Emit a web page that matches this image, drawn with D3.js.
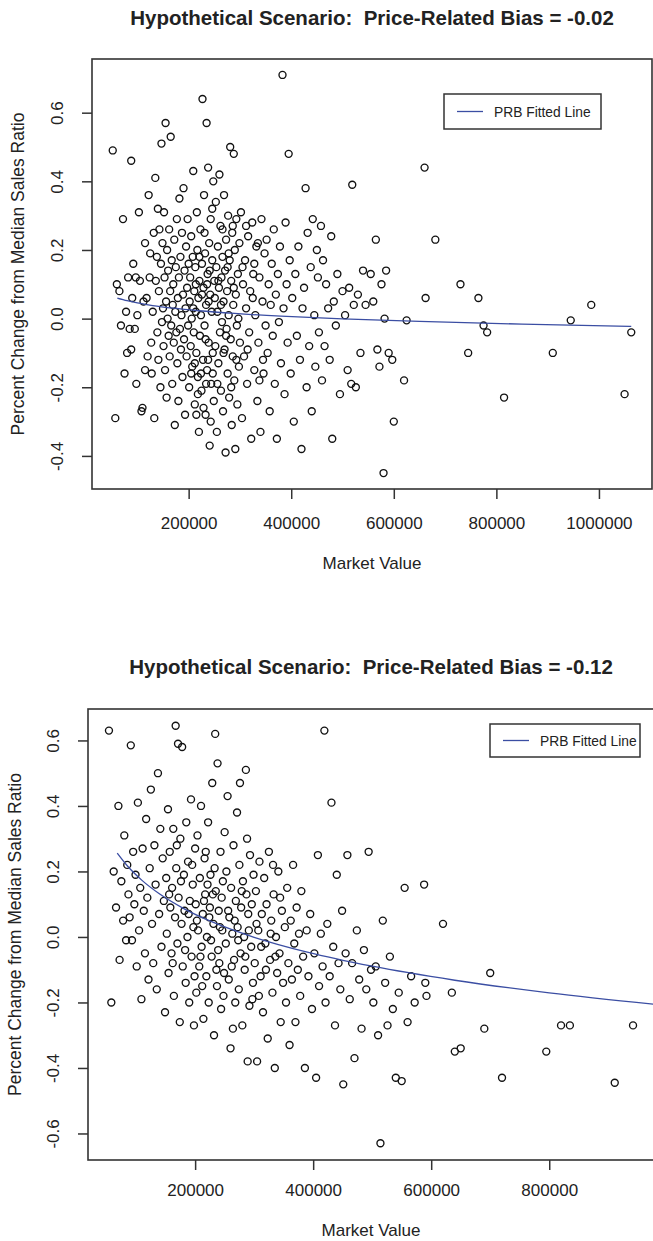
<!DOCTYPE html>
<html>
<head>
<meta charset="utf-8">
<script src="https://cdn.jsdelivr.net/npm/d3@7/dist/d3.min.js"></script>
<style>
  html, body { margin: 0; padding: 0; background: #fff; }
  svg { display: block; }
  text { font-family: "Liberation Sans", Arial, Helvetica, sans-serif; fill: #222; white-space: pre; }
</style>
</head>
<body>
<svg id="chart" width="653" height="1241"></svg>
<script>
// Market values are in thousands of dollars.
const topTitle = "Hypothetical Scenario:  Price-Related Bias = -0.02";
const topPRB = -0.02;
const topMarketValue = [
  52,57,60,65,68,72,75,78,80,82,85,88,88,90,92,95,97,98,100,
  103,105,108,110,112,115,115,118,120,122,124,125,127,128,130,132,133,135,136,138,139,140,141,142,143,145,146,147,148,149,150,
  151,152,153,154,155,156,157,158,159,160,161,162,163,164,165,166,167,168,169,170,171,172,173,174,175,176,177,178,179,180,181,182,183,184,185,186,187,188,189,190,191,192,193,194,195,196,197,198,199,200,
  201,202,203,204,205,206,207,208,209,210,211,212,213,214,215,216,217,218,219,220,221,222,223,224,225,226,227,228,229,230,231,232,233,234,235,236,237,238,239,240,241,242,243,244,245,246,247,248,249,250,
  212,218,224,229,234,238,243,247,205,215,221,226,231,236,241,246,209,239,233,214,
  251,252,253,254,255,256,257,258,259,260,261,262,263,264,265,266,267,268,269,270,271,272,273,274,275,276,277,278,279,280,281,282,283,284,285,286,287,288,289,290,291,292,293,294,295,296,297,298,299,300,
  258,263,268,273,278,283,288,293,256,266,276,286,
  302,304,306,308,310,312,314,316,318,320,322,324,326,328,330,332,334,336,338,340,342,344,346,348,350,
  305,315,325,335,345,312,328,338,
  352,354,356,358,360,362,364,366,368,370,372,374,376,378,380,383,385,387,389,391,393,395,397,399,
  402,405,408,411,414,417,420,422,425,428,430,432,435,438,440,442,445,447,450,452,454,
  458,460,462,465,468,472,475,478,480,483,487,490,495,500,505,510,513,517,519,522,526,530,535,540,545,
  555,560,565,568,572,576,580,582,585,590,597,600,620,625,660,662,681,
  730,745,765,775,782,815,910,945,985,1050,1063
];
const topPctChange = [
  0.49,-0.29,0.10,0.08,-0.02,0.29,-0.16,0.02,-0.10,0.12,-0.03,0.46,-0.09,0.06,0.16,-0.03,0.12,-0.19,0.01,
  0.31,0.11,-0.27,-0.26,0.05,-0.15,0.22,0.06,-0.11,0.36,0.12,0.19,-0.07,-0.16,0.02,0.25,-0.29,0.41,0.11,0.18,-0.04,0.32,-0.12,0.08,0.26,-0.20,0.16,0.51,-0.01,0.22,0.03,
  -0.08,0.31,0.12,-0.15,0.57,0.05,-0.23,0.20,0.00,0.14,-0.05,0.26,-0.11,0.08,0.53,-0.02,0.17,-0.19,0.04,0.10,-0.07,0.23,-0.31,0.02,0.15,-0.04,0.29,-0.13,0.06,-0.24,0.12,0.35,-0.03,0.18,-0.09,0.01,0.25,-0.17,0.07,0.38,-0.06,0.14,-0.28,0.03,0.21,-0.11,0.09,0.29,-0.02,0.16,
  -0.20,0.05,0.12,-0.08,0.24,0.00,-0.14,0.18,0.43,-0.04,0.08,-0.25,0.15,0.02,-0.10,0.31,0.20,-0.17,0.06,-0.33,0.11,-0.05,0.26,0.01,-0.21,0.16,0.64,-0.12,0.09,0.36,-0.02,0.19,-0.28,0.04,0.57,-0.15,0.13,0.44,-0.07,0.22,-0.37,0.07,0.29,-0.19,0.02,0.17,-0.10,0.40,-0.24,0.11,
  -0.13,-0.22,-0.16,-0.26,-0.19,-0.12,-0.30,-0.16,-0.16,-0.28,0.18,0.07,0.25,0.10,0.14,0.32,0.03,0.05,-0.06,0.10,
  0.06,-0.08,0.34,0.15,-0.33,0.02,0.21,-0.13,0.09,0.42,-0.04,0.27,-0.21,0.12,-0.01,0.18,-0.27,0.05,0.36,-0.09,0.14,-0.39,0.23,-0.03,0.08,-0.16,0.30,0.01,-0.23,0.17,0.50,-0.06,0.11,-0.31,0.25,-0.11,0.04,0.48,-0.18,0.20,-0.38,0.07,0.29,-0.02,-0.25,0.13,0.00,-0.14,0.22,-0.07,
  0.11,0.04,-0.10,-0.05,0.19,-0.20,0.09,-0.12,-0.19,0.26,0.15,0.27,
  0.31,-0.29,0.10,-0.11,0.17,0.03,-0.19,0.24,-0.04,0.08,-0.35,0.28,0.13,-0.15,0.01,0.21,-0.24,-0.07,0.12,-0.33,0.29,0.05,-0.16,0.19,-0.02,
  0.15,-0.09,0.06,0.22,-0.12,0.27,0.16,-0.18,
  0.23,-0.10,0.10,-0.27,0.04,0.16,-0.05,0.26,-0.19,0.07,-0.35,0.13,-0.01,0.21,-0.13,0.71,0.03,-0.22,0.28,0.10,-0.07,0.48,0.17,-0.16,
  0.06,-0.30,0.13,-0.05,0.21,-0.12,-0.38,0.03,0.09,0.38,-0.20,0.25,-0.08,0.15,-0.27,0.29,0.01,-0.14,0.20,0.12,-0.04,
  0.27,-0.18,0.17,-0.08,0.10,0.03,-0.12,0.24,-0.35,0.05,-0.02,0.13,-0.22,0.08,0.01,-0.15,0.09,-0.19,0.39,0.04,-0.20,0.07,-0.10,0.14,0.04,
  0.13,0.05,0.23,-0.09,-0.14,0.10,-0.45,0.00,0.14,-0.10,-0.12,-0.30,-0.18,-0.005,0.44,0.06,0.23,
  0.10,-0.10,0.06,-0.02,-0.04,-0.23,-0.10,-0.005,0.04,-0.22,-0.04
];
const topFitMarketValue = [61, 80, 100, 130, 170, 220, 290, 380, 500, 650, 850, 1063];
const topFitStart = 0.06;
const topXTicks = [200, 400, 600, 800, 1000];
const topXTickLabels = ["200000", "400000", "600000", "800000", "1000000"];
const topYTicks = [-0.4, -0.2, 0.0, 0.2, 0.4, 0.6];
const topYTickLabels = ["-0.4", "-0.2", "0.0", "0.2", "0.4", "0.6"];

const bottomTitle = "Hypothetical Scenario:  Price-Related Bias = -0.12";
const bottomPRB = -0.12;
const bottomMarketValue = [
  54,58,62,66,70,72,75,78,80,83,85,87,89,91,93,95,97,99,
  101,103,105,107,109,111,113,115,117,119,121,123,125,127,129,131,133,135,137,139,141,143,145,147,149,
  151,152,154,155,157,158,160,161,163,164,166,167,168,170,171,172,174,175,177,178,179,181,182,184,185,187,188,190,191,193,194,196,197,199,200,
  156,162,169,176,183,189,195,198,
  201,202,204,205,207,208,210,211,213,214,216,217,219,220,222,223,225,226,228,229,231,232,234,235,237,238,240,241,243,244,246,247,249,250,
  203,209,215,221,227,233,239,245,212,224,236,248,218,230,242,
  252,253,255,257,258,260,261,263,265,266,268,269,271,272,274,275,277,278,280,281,283,284,286,287,289,290,292,293,295,296,298,299,
  256,262,267,273,279,285,291,297,264,288,276,
  301,303,305,307,309,311,313,315,317,319,321,323,325,327,329,331,333,335,337,339,341,343,345,347,349,
  304,312,320,328,336,344,308,332,
  352,354,356,358,360,362,364,366,368,370,372,374,376,378,380,383,386,389,392,395,398,
  402,405,408,410,413,416,419,421,424,428,431,434,437,440,443,446,449,
  451,455,458,462,466,470,474,478,482,486,490,494,498,502,506,510,514,518,522,526,530,535,540,545,550,
  555,560,566,572,588,590,592,620,635,640,650,690,700,
  720,795,820,835,911,942
];
const bottomPctChange = [
  0.63,-0.20,0.20,0.09,0.40,-0.07,0.17,0.05,0.31,-0.01,0.22,0.13,0.06,0.585,-0.01,0.26,0.10,0.19,
  -0.09,0.41,0.02,0.15,-0.19,0.27,0.08,-0.05,0.36,0.12,-0.13,0.21,0.45,0.04,-0.08,0.28,0.16,-0.16,0.50,0.07,0.33,-0.03,0.24,0.11,-0.23,
  0.18,0.01,0.39,-0.11,0.26,0.09,-0.05,0.15,0.33,-0.18,0.06,0.645,0.21,-0.02,0.59,0.12,-0.26,0.30,0.04,0.58,-0.09,0.19,0.08,-0.14,0.35,0.00,0.23,-0.20,0.11,0.42,-0.06,0.16,0.03,-0.12,0.27,
  0.13,-0.08,0.28,0.17,-0.04,0.07,0.22,-0.27,
  0.10,-0.17,0.31,0.02,-0.09,0.18,0.40,-0.03,0.07,-0.25,0.24,0.13,-0.12,0.00,0.35,-0.20,0.09,0.19,-0.06,0.47,0.04,-0.30,0.62,0.14,-0.15,0.53,0.08,-0.08,0.26,-0.22,0.02,0.17,-0.11,0.32,
  0.05,-0.06,0.11,0.16,-0.01,0.21,-0.04,0.12,-0.15,0.06,-0.10,-0.18,0.26,0.13,0.03,
  -0.02,0.20,0.43,-0.13,0.06,-0.34,0.15,0.01,0.28,-0.07,-0.20,0.11,0.38,0.03,-0.16,0.22,-0.05,0.09,-0.27,0.17,0.00,-0.10,0.51,0.13,-0.38,0.07,-0.21,0.25,-0.03,0.10,-0.14,0.19,
  0.08,-0.09,0.05,-0.01,0.14,-0.06,0.02,-0.19,-0.28,0.30,0.47,
  -0.08,0.14,-0.38,0.02,0.23,-0.12,0.07,-0.23,0.18,-0.02,0.10,-0.31,0.26,-0.07,0.05,-0.17,0.13,-0.40,0.00,-0.11,0.20,-0.05,-0.26,0.08,-0.14,
  0.04,-0.03,-0.10,0.01,-0.06,0.12,-0.18,0.22,
  0.03,-0.20,0.15,-0.08,-0.33,0.05,-0.13,0.22,-0.02,-0.26,0.09,-0.10,0.01,-0.18,0.14,-0.06,-0.40,0.02,-0.12,0.07,-0.22,
  -0.05,-0.43,0.25,-0.15,0.01,-0.09,0.63,-0.20,0.04,-0.12,0.41,-0.03,-0.27,0.19,-0.08,-0.16,0.08,
  -0.45,-0.05,0.25,-0.19,-0.08,-0.37,0.02,-0.13,-0.28,-0.04,-0.16,0.26,-0.10,-0.20,-0.09,-0.30,-0.63,0.05,-0.14,-0.27,-0.06,-0.22,-0.43,-0.17,-0.44,
  0.15,-0.26,-0.12,-0.20,0.16,-0.14,-0.18,0.04,-0.17,-0.35,-0.34,-0.28,-0.11,
  -0.43,-0.35,-0.27,-0.27,-0.445,-0.27
];
const bottomFitMarketValue = [68, 85, 110, 140, 180, 230, 300, 390, 500, 640, 800, 990];
const bottomFitStart = 0.256;
const bottomXTicks = [200, 400, 600, 800];
const bottomXTickLabels = ["200000", "400000", "600000", "800000"];
const bottomYTicks = [-0.6, -0.4, -0.2, 0.0, 0.2, 0.4, 0.6];
const bottomYTickLabels = ["-0.6", "-0.4", "-0.2", "0.0", "0.2", "0.4", "0.6"];

const legendLabel = "PRB Fitted Line";
const xAxisTitle = "Market Value";
const yAxisTitle = "Percent Change from Median Sales Ratio";

const svg = d3.select("#chart");
const labelSize = 17;
const yTitleSize = 17.5;
const titleSize = 20.5;

// R-style axis limits: data range widened by 4% on each side
function padded(ext) {
  const d = (ext[1] - ext[0]) * 0.04;
  return [ext[0] - d, ext[1] + d];
}

function drawPanel(p) {
  const g = svg.append("g");
  const x = d3.scaleLinear().domain(p.xDomain).range([p.left, p.right]);
  const y = d3.scaleLinear().domain(padded(d3.extent(p.pct))).range([p.bottom, p.top]);

  const clipId = "clip" + p.id;
  svg.append("clipPath").attr("id", clipId)
    .append("rect").attr("x", p.left).attr("y", p.top)
    .attr("width", p.right - p.left).attr("height", p.bottom - p.top);

  // title
  g.append("text").attr("x", (p.left + p.right) / 2).attr("y", p.titleY)
    .attr("text-anchor", "middle").attr("font-size", titleSize).attr("font-weight", "bold")
    .text(p.title);

  // points
  const pts = p.mv.map((v, i) => [v, p.pct[i]]);
  g.append("g").selectAll("circle").data(pts).join("circle")
    .attr("cx", d => x(d[0])).attr("cy", d => y(d[1])).attr("r", 3.5)
    .attr("fill", "none").attr("stroke", "#111").attr("stroke-width", 1.35);

  // PRB fitted line: percent change falls by PRB per doubling of value
  const fit = p.fitMV.map(v => [v, p.fitStart + p.prb * Math.log2(v / p.fitMV[0])]);
  g.append("path").datum(fit)
    .attr("clip-path", `url(#${clipId})`)
    .attr("d", d3.line().x(d => x(d[0])).y(d => y(d[1])).curve(d3.curveMonotoneX))
    .attr("fill", "none").attr("stroke", "#3b4ea3").attr("stroke-width", 1.3);

  // plot frame
  g.append("rect").attr("x", p.left).attr("y", p.top)
    .attr("width", p.right - p.left).attr("height", p.bottom - p.top)
    .attr("fill", "none").attr("stroke", "#333").attr("stroke-width", 1.6);

  // x axis
  const xa = d3.axisBottom(x).tickValues(p.xTicks).tickSize(10)
    .tickFormat((d, i) => p.xTickLabels[i]);
  const xg = g.append("g").attr("transform", `translate(0,${p.bottom})`).call(xa);
  xg.select(".domain").remove();
  xg.selectAll(".tick line").attr("stroke", "#333").attr("stroke-width", 1.5);
  xg.selectAll(".tick text").attr("font-size", labelSize).attr("fill", "#222")
    .attr("font-family", "Liberation Sans, Arial, sans-serif")
    .attr("y", p.xLabelY - p.bottom).attr("dy", 0);

  // y axis with labels parallel to the axis
  const ya = d3.axisLeft(y).tickValues(p.yTicks).tickSize(10)
    .tickFormat((d, i) => p.yTickLabels[i]);
  const yg = g.append("g").attr("transform", `translate(${p.left},0)`).call(ya);
  yg.select(".domain").remove();
  yg.selectAll(".tick line").attr("stroke", "#333").attr("stroke-width", 1.5);
  yg.selectAll(".tick text").attr("font-size", labelSize).attr("fill", "#222")
    .attr("font-family", "Liberation Sans, Arial, sans-serif")
    .attr("text-anchor", "middle").attr("x", 0).attr("dy", 0)
    .attr("transform", `translate(${p.yLabelX - p.left},0) rotate(-90)`);

  // axis titles
  g.append("text").attr("x", (p.left + p.right) / 2).attr("y", p.xTitleY)
    .attr("text-anchor", "middle").attr("font-size", labelSize).text(xAxisTitle);
  g.append("text")
    .attr("transform", `translate(${p.yTitleX},${(p.top + p.bottom) / 2}) rotate(-90)`)
    .attr("text-anchor", "middle").attr("font-size", yTitleSize).text(yAxisTitle);

  // legend
  const lg = g.append("g");
  lg.append("rect").attr("x", p.legend[0]).attr("y", p.legend[1])
    .attr("width", p.legend[2]).attr("height", p.legend[3])
    .attr("fill", "#fff").attr("stroke", "#333").attr("stroke-width", 1.5);
  const ly = p.legend[1] + p.legend[3] / 2;
  lg.append("line").attr("x1", p.legend[0] + 13).attr("x2", p.legend[0] + 39)
    .attr("y1", ly).attr("y2", ly).attr("stroke", "#3b4ea3").attr("stroke-width", 1.3);
  lg.append("text").attr("x", p.legend[0] + 50).attr("y", ly + 5)
    .attr("font-size", 13.8).text(legendLabel);
}

drawPanel({
  id: "Top", title: topTitle, titleY: 25,
  mv: topMarketValue, pct: topPctChange,
  xDomain: padded(d3.extent(topMarketValue)),
  left: 92, right: 652, top: 59, bottom: 489,
  xTicks: topXTicks, xTickLabels: topXTickLabels, xLabelY: 529, xTitleY: 569,
  yTicks: topYTicks, yTickLabels: topYTickLabels, yLabelX: 63, yTitleX: 24,
  prb: topPRB, fitMV: topFitMarketValue, fitStart: topFitStart,
  legend: [444, 94, 157, 35]
});

drawPanel({
  id: "Bottom", title: bottomTitle, titleY: 674,
  mv: bottomMarketValue, pct: bottomPctChange,
  xDomain: padded(d3.extent(bottomMarketValue)),
  left: 88, right: 654, top: 709, bottom: 1160,
  xTicks: bottomXTicks, xTickLabels: bottomXTickLabels, xLabelY: 1196, xTitleY: 1236,
  yTicks: bottomYTicks, yTickLabels: bottomYTickLabels, yLabelX: 59, yTitleX: 21,
  prb: bottomPRB, fitMV: bottomFitMarketValue, fitStart: bottomFitStart,
  legend: [490, 724, 150, 33]
});
</script>
</body>
</html>
